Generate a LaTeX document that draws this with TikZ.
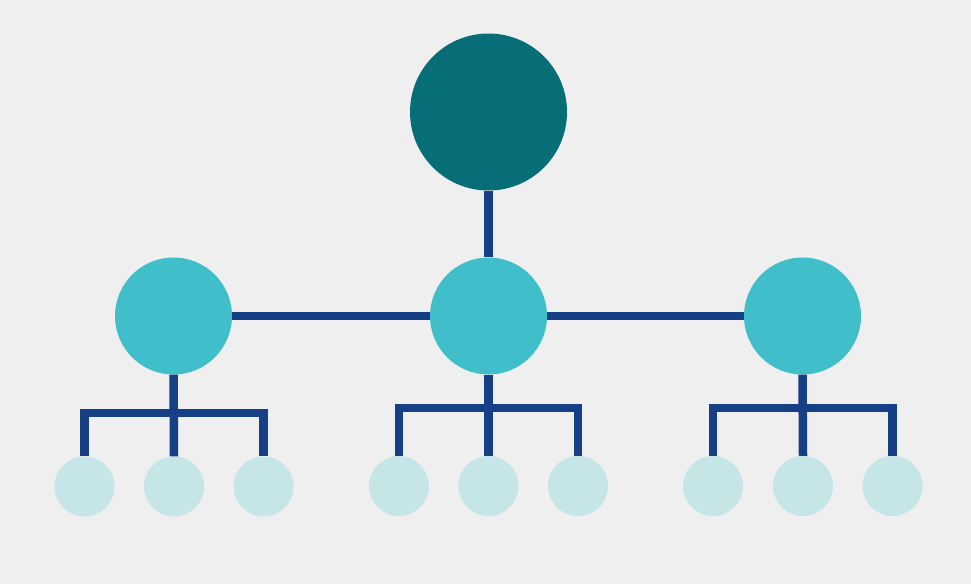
\documentclass[tikz,border=0pt]{standalone}
\definecolor{bgc}{HTML}{EFEFEF}
\definecolor{topc}{HTML}{076D77}
\definecolor{midc}{HTML}{40BFCA}
\definecolor{smallc}{HTML}{C5E5E7}
\definecolor{linec}{HTML}{163F85}
\tikzset{
  topnode/.style={circle, fill=topc, minimum size=157pt, inner sep=0pt},
  midnode/.style={circle, fill=midc, minimum size=117pt, inner sep=0pt},
  leafnode/.style={circle, fill=smallc, minimum size=60pt, inner sep=0pt},
  link/.style={draw=linec, line width=8.5pt, line join=miter, line cap=butt}
}
\begin{document}
\begin{tikzpicture}[x=1pt, y=-1pt]
\fill[bgc] (0,0) rectangle (971,584);
\useasboundingbox (0,0) rectangle (971,584);
\node[topnode] (top) at (488.5,112) {};
\node[midnode] (m1) at (173.5,316) {};
\node[midnode] (m2) at (488.5,316) {};
\node[midnode] (m3) at (802.5,316) {};
\node[leafnode] (s11) at (84.5,486.5) {};
\node[leafnode] (s12) at (174,486.5) {};
\node[leafnode] (s13) at (263.5,486.5) {};
\node[leafnode] (s21) at (399,486) {};
\node[leafnode] (s22) at (488.5,486) {};
\node[leafnode] (s23) at (578,486) {};
\node[leafnode] (s31) at (713,486) {};
\node[leafnode] (s32) at (803,486) {};
\node[leafnode] (s33) at (892.5,486) {};
\coordinate (b1) at (174,413);
\coordinate (b2) at (488.5,408);
\coordinate (b3) at (803,408);
\path[link] (top) -- (m2);
\path[link] (m1) -- (m2) -- (m3);
\path[link] (m1.south) -- (s12.north);
\path[link] (m2.south) -- (s22.north);
\path[link] (m3.south) -- (s32.north);
\path[link] (s11.north) |- (b1) -| (s13.north);
\path[link] (s21.north) |- (b2) -| (s23.north);
\path[link] (s31.north) |- (b3) -| (s33.north);
\end{tikzpicture}
\end{document}
